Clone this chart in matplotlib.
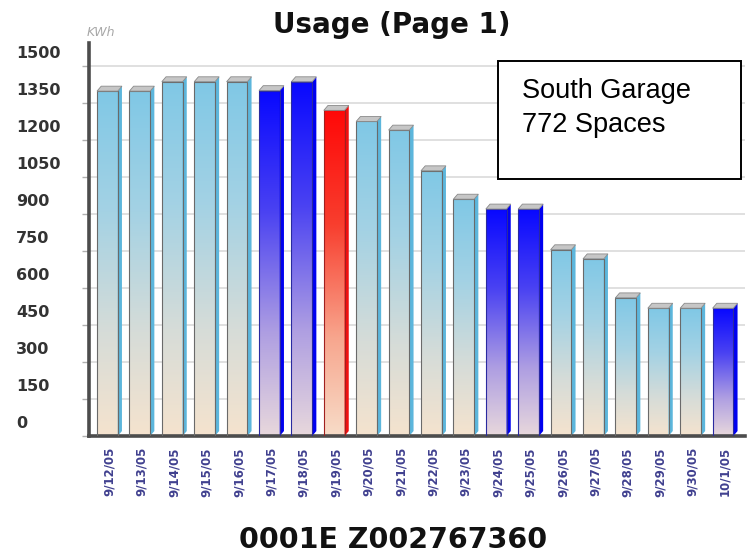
import numpy as np
import matplotlib.pyplot as plt
from matplotlib import transforms
from matplotlib.colors import LinearSegmentedColormap
from matplotlib.patches import Polygon, Rectangle

# daily usage, KWh
dates = ['9/12/05', '9/13/05', '9/14/05', '9/15/05', '9/16/05', '9/17/05',
         '9/18/05', '9/19/05', '9/20/05', '9/21/05', '9/22/05', '9/23/05',
         '9/24/05', '9/25/05', '9/26/05', '9/27/05', '9/28/05', '9/29/05',
         '9/30/05', '10/1/05']
usage = [1398, 1398, 1436, 1436, 1436, 1400, 1436, 1320, 1275, 1240,
         1075, 960, 920, 920, 755, 718, 560, 518, 518, 518]
# day type: weekday, weekend, flagged
kind = ['day'] * 5 + ['end', 'end', 'flag'] + ['day'] * 4 + ['end', 'end'] \
    + ['day'] * 5 + ['end']
y_ticks = list(range(0, 1501, 150))

ramps = {
    'day': ['#f5e3ce', '#d6dcd8', '#a4d2e4', '#80c8e6'],
    'end': ['#e8d8dc', '#ae9ee2', '#4a42f2', '#0808ff'],
    'flag': ['#f7dcc8', '#f8a68e', '#f83e2e', '#ff0808'],
}
side_col = {'day': '#5cb6dc', 'end': '#0000f0', 'flag': '#f01010'}
edge_col = {'day': '#6a6a6a', 'end': '#2a2aa0', 'flag': '#a02020'}
cmaps = {k: LinearSegmentedColormap.from_list(k, list(zip([0, 0.3, 0.65, 1], c)))
         for k, c in ramps.items()}

fig = plt.figure(figsize=(7.51, 5.56), dpi=100)
ax = fig.add_axes([89 / 751, 120 / 556, 656 / 751, 393 / 556])

# bar geometry in data units
face_w = 0.64
depth_x = 0.13
depth_y = 20
grad = np.linspace(0, 1, 256).reshape(-1, 1)

for i, (v, k) in enumerate(zip(usage, kind)):
    x0 = i - 0.38
    x1 = x0 + face_w
    ax.imshow(grad, cmap=cmaps[k], origin='lower', aspect='auto',
              extent=[x0, x1, 0, v], interpolation='bicubic', zorder=2)
    ax.add_patch(Rectangle((x0, 0), face_w, v, fill=False,
                           ec=edge_col[k], lw=0.8, zorder=3))
    # right side and top of the 3D block
    ax.add_patch(Polygon([(x1, 0), (x1 + depth_x, depth_y),
                          (x1 + depth_x, v + depth_y), (x1, v)],
                         fc=side_col[k], ec='none', zorder=2))
    ax.add_patch(Polygon([(x0, v), (x1, v), (x1 + depth_x, v + depth_y),
                          (x0 + depth_x, v + depth_y)],
                         fc='#c6c6c6', ec='#8a8a8a', lw=0.6, zorder=3))

ax.set_xlim(-0.627, 19.62)
ax.set_ylim(0, 1593)

for t in y_ticks[1:]:
    ax.axhline(t, color='#dadada', lw=1.2, zorder=1)

ax.set_yticks(y_ticks)
ax.set_yticklabels([])
ax.tick_params(axis='y', length=5, width=1, color='#b0b0b0', direction='out')
ax.set_xticks(range(len(dates)))
ax.set_xticklabels(dates, rotation=90, fontsize=8.5, fontweight='bold',
                   color='#40408f')
ax.tick_params(axis='x', length=0, pad=8)

for s in ['top', 'right']:
    ax.spines[s].set_visible(False)
for s in ['left', 'bottom']:
    ax.spines[s].set_color('#4c4c4c')
    ax.spines[s].set_linewidth(2.6)

# value labels sit above their gridlines, flush left
ylab = transforms.blended_transform_factory(fig.transFigure, ax.transData) \
    + transforms.ScaledTranslation(0, 0.12, fig.dpi_scale_trans)
for t in y_ticks:
    ax.text(16 / 751, t, str(t), transform=ylab, ha='left', va='center',
            fontsize=11.5, fontweight='bold', color='#333333')

fig.text(87 / 751, 1 - 33 / 556, 'KWh', fontsize=9, style='italic',
         color='#a8a8a8', ha='left', va='center')
fig.text(392 / 751, 1 - 33 / 556, 'Usage (Page 1)', fontsize=20,
         fontweight='bold', ha='center', va='baseline', color='#111111')
fig.text(393 / 751, 1 - 548 / 556, '0001E Z002767360', fontsize=20.5,
         fontweight='bold', ha='center', va='baseline', color='#111111')

# site note box
fig.add_artist(Rectangle((498 / 751, 1 - 179 / 556), 243 / 751, 118 / 556,
                         transform=fig.transFigure, fc='white', ec='black',
                         lw=1.4, zorder=5))
fig.text(522 / 751, 1 - 98 / 556, 'South Garage', fontsize=19.5,
         family='Liberation Sans', ha='left', va='baseline', zorder=6)
fig.text(522 / 751, 1 - 132 / 556, '772 Spaces', fontsize=19.5,
         family='Liberation Sans', ha='left', va='baseline', zorder=6)

fig.savefig('out.png', dpi=100)
